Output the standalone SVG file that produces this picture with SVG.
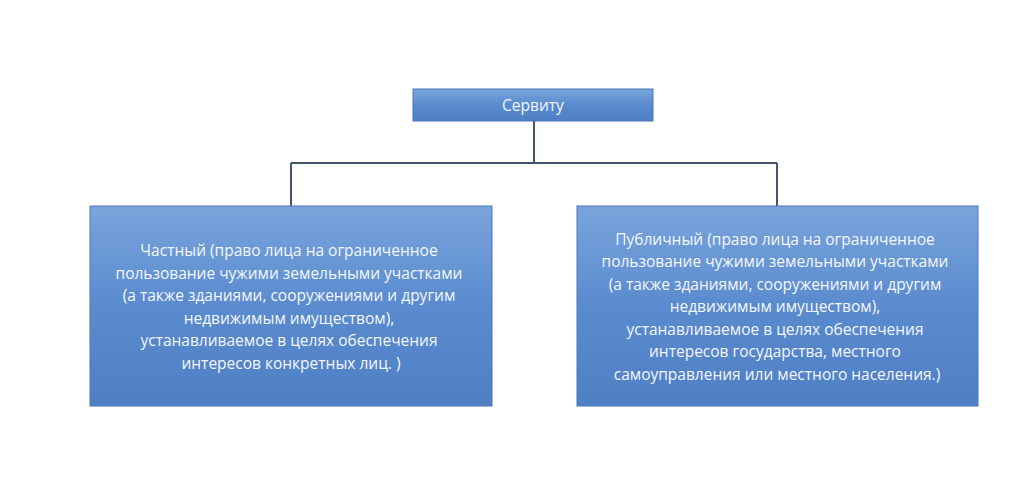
<svg xmlns="http://www.w3.org/2000/svg" width="1024" height="482" viewBox="0 0 1024 482">
<defs>
<linearGradient id="g" x1="0" y1="0" x2="0" y2="1">
<stop offset="0" stop-color="#7aa5dc"/><stop offset="0.5" stop-color="#5a8bcf"/><stop offset="1" stop-color="#4f7fc4"/>
</linearGradient>
</defs>
<style>
.box{fill:url(#g);stroke:#4a77b4;stroke-width:1}
.t{font-family:"Open Sans","Liberation Sans",sans-serif;font-size:15.5px;fill:#f4f7fb;text-anchor:middle}
.c{stroke:#44546a;stroke-width:2;fill:none}
</style>
<rect width="1024" height="482" fill="#fff"/>
<g id="connectors">
<path class="c" d="M534 121V163M291 163H777M291 163V206M777 163V206"/>
</g>
<g id="root">
<rect class="box" x="413" y="89" width="240" height="32"/>
<text class="t" x="533" y="111">Сервиту</text>
</g>
<g id="private">
<rect class="box" x="90" y="206" width="402" height="200"/>
<text class="t">
<tspan x="291" y="256">Частный (право лица на ограниченное</tspan>
<tspan x="291" y="279">пользование чужими земельными участками</tspan>
<tspan x="291" y="301">(а также зданиями, сооружениями и другим</tspan>
<tspan x="291" y="324">недвижимым имуществом),</tspan>
<tspan x="291" y="346">устанавливаемое в целях обеспечения</tspan>
<tspan x="291" y="369">интересов конкретных лиц. )</tspan>
</text>
</g>
<g id="public">
<rect class="box" x="577" y="206" width="401" height="200"/>
<text class="t">
<tspan x="777" y="245">Публичный (право лица на ограниченное</tspan>
<tspan x="777" y="267">пользование чужими земельными участками</tspan>
<tspan x="777" y="290">(а также зданиями, сооружениями и другим</tspan>
<tspan x="777" y="312">недвижимым имуществом),</tspan>
<tspan x="777" y="335">устанавливаемое в целях обеспечения</tspan>
<tspan x="777" y="357">интересов государства, местного</tspan>
<tspan x="777" y="380">самоуправления или местного населения.)</tspan>
</text>
</g>
</svg>
